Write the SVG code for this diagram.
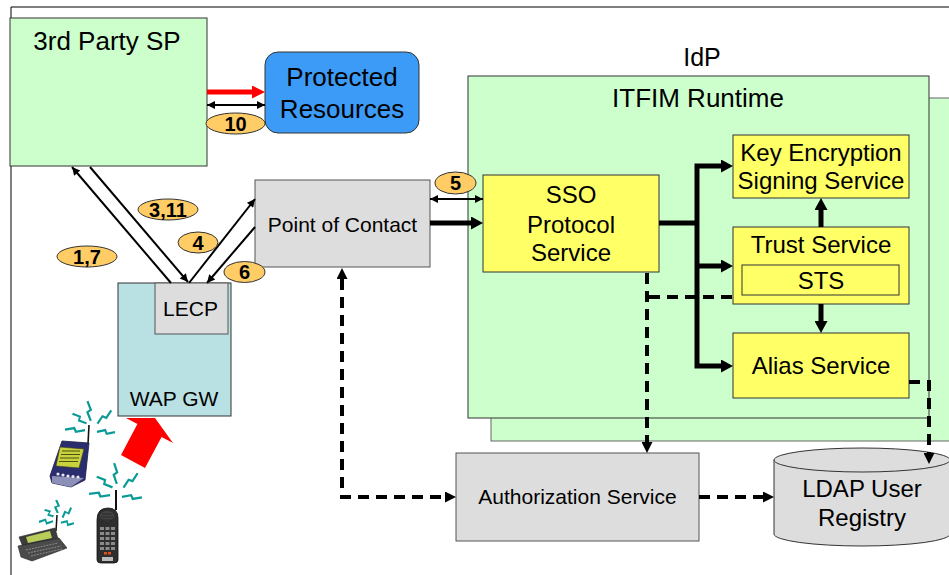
<svg xmlns="http://www.w3.org/2000/svg" xmlns:xlink="http://www.w3.org/1999/xlink" width="949" height="575" viewBox="0 0 949 575">
  <style>
    text { font-family: "Liberation Sans", Arial, sans-serif; fill: #000; text-anchor: middle; }
    .badge ellipse { fill: #FFCC66; stroke: #333; stroke-width: 1; }
    .badge text { font-size: 20px; font-weight: bold; }
    .green { fill: #CCFFCC; stroke: #333; stroke-width: 1; }
    .yellow { fill: #FFFF66; stroke: #333; stroke-width: 1; }
    .grey { fill: #DDDDDD; stroke: #555; stroke-width: 1; }
    .thin { fill: none; stroke: #000; stroke-width: 2; }
    .thick { fill: none; stroke: #000; stroke-width: 5; }
    .dash { fill: none; stroke: #000; stroke-width: 4; stroke-dasharray: 11 7; }
    .ray { fill: none; stroke: #0A9A96; stroke-width: 2.2; }
  </style>
  <defs>
    <marker id="ah" viewBox="0 0 10 10" refX="10" refY="5" markerWidth="10" markerHeight="8" orient="auto-start-reverse" markerUnits="userSpaceOnUse">
      <path d="M0,0 L10,5 L0,10 z" fill="#000"/>
    </marker>
    <marker id="ahThick" viewBox="0 0 12 13" refX="0" refY="6.5" markerWidth="12" markerHeight="13" orient="auto-start-reverse" markerUnits="userSpaceOnUse">
      <path d="M0,0 L12,6.5 L0,13 z" fill="#000"/>
    </marker>
    <marker id="ahRed" viewBox="0 0 13 13" refX="0" refY="6.5" markerWidth="13" markerHeight="13" orient="auto" markerUnits="userSpaceOnUse">
      <path d="M0,0 L13,6.5 L0,13 z" fill="#FF0000"/>
    </marker>
    <marker id="ahDash" viewBox="0 0 11 11" refX="0" refY="5.5" markerWidth="11" markerHeight="11" orient="auto-start-reverse" markerUnits="userSpaceOnUse">
      <path d="M0,0 L11,5.5 L0,11 z" fill="#000"/>
    </marker>
    <!-- radio signal zig-zag, 20 units long along +x -->
    <polyline id="bolt" class="ray" points="0,0.8 9,-1.8 11,1.8 20,-0.8"/>
  </defs>

  <!-- page frame -->
  <path d="M11,575 V7 H949" fill="none" stroke="#000" stroke-width="1"/>

  <!-- IdP container -->
  <g id="idp">
    <text x="702" y="66" font-size="25">IdP</text>
    <rect x="491" y="98" width="470" height="343" fill="#CCFFCC" stroke="#666" stroke-width="1"/>
  </g>
  <g id="itfim-runtime">
    <rect class="green" x="468" y="76" width="461" height="342"/>
    <text x="698" y="107" font-size="26">ITFIM Runtime</text>
  </g>

  <g id="third-party-sp">
    <rect class="green" x="10" y="18" width="197" height="148"/>
    <text x="107" y="50" font-size="26">3rd Party SP</text>
  </g>

  <g id="protected-resources">
    <rect x="265" y="52" width="154" height="81" rx="13" fill="#3D9BF8" stroke="#333" stroke-width="1"/>
    <text x="342" y="86" font-size="26">Protected</text>
    <text x="342" y="118" font-size="26">Resources</text>
  </g>

  <g id="point-of-contact">
    <rect class="grey" x="255" y="180" width="175" height="87"/>
    <text x="342.5" y="232" font-size="21">Point of Contact</text>
  </g>

  <g id="sso-protocol-service">
    <rect class="yellow" x="483" y="175" width="176" height="97"/>
    <text x="571" y="203" font-size="24">SSO</text>
    <text x="571" y="233" font-size="24">Protocol</text>
    <text x="571" y="261" font-size="24">Service</text>
  </g>

  <g id="key-encryption-service">
    <rect class="yellow" x="733" y="135" width="176" height="63"/>
    <text x="821" y="161" font-size="24">Key Encryption</text>
    <text x="821" y="189" font-size="24">Signing Service</text>
  </g>

  <g id="trust-service">
    <rect class="yellow" x="733" y="227" width="176" height="77"/>
    <text x="821" y="253" font-size="24">Trust Service</text>
    <g id="sts">
      <rect class="yellow" x="742" y="265" width="157" height="30"/>
      <text x="821" y="289" font-size="24">STS</text>
    </g>
  </g>

  <g id="alias-service">
    <rect class="yellow" x="733" y="333" width="176" height="65"/>
    <text x="821" y="374" font-size="24">Alias Service</text>
  </g>

  <g id="authorization-service">
    <rect class="grey" x="456" y="453" width="243" height="88"/>
    <text x="577.5" y="504" font-size="21">Authorization Service</text>
  </g>

  <g id="ldap-user-registry">
    <path d="M774,460 V534 A88,12 0 0 0 950,534 V460 Z" fill="#DDDDDD" stroke="#333" stroke-width="1"/>
    <ellipse cx="862" cy="460" rx="88" ry="12" fill="#DDDDDD" stroke="#333" stroke-width="1"/>
    <text x="862" y="497" font-size="24">LDAP User</text>
    <text x="862" y="526" font-size="24">Registry</text>
  </g>

  <g id="wap-gw">
    <rect x="118" y="283" width="113" height="133" fill="#B9E0E3" stroke="#333" stroke-width="1"/>
    <text x="174" y="406" font-size="21">WAP GW</text>
    <g id="lecp">
      <rect class="grey" x="155" y="283" width="73" height="51"/>
      <text x="190.5" y="316" font-size="21">LECP</text>
    </g>
  </g>

  <!-- mobile devices -->
  <g id="devices">
    <!-- red uplink arrow -->
    <polygon points="155,418 173,443 161.6,436.9 145,468 121,455 137.4,424.1 126,418" fill="#FF0000"/>

    <!-- handheld PDA -->
    <g id="pda">
      <line x1="88" y1="444" x2="89" y2="425" stroke="#111" stroke-width="1.6"/>
      <polygon points="62,441 89,443 85,480 71,487 52,483 50,476" fill="#2B2E6E" stroke="#1A1C44" stroke-width="0.8"/>
      <polygon points="52,476 84,478 71,487 52,483" fill="#8C90B8"/>
      <polygon points="60,447 84,449 79,468 56,466" fill="#C8D23C" stroke="#3A3A20" stroke-width="0.6"/>
      <path d="M62,451 H80 M61,454.5 H80 M60,458 H79 M59,461.5 H78" stroke="#4A5010" stroke-width="1"/>
      <circle cx="58" cy="474" r="1.6" fill="#E8E8F0"/>
      <circle cx="63" cy="475" r="1.6" fill="#E8E8F0"/>
      <circle cx="68" cy="476" r="1.6" fill="#E8E8F0"/>
      <circle cx="73" cy="476.5" r="1.6" fill="#E8E8F0"/>
      <circle cx="78" cy="477" r="1.6" fill="#E8E8F0"/>
      <use xlink:href="#bolt" transform="translate(90,421) rotate(-95) scale(1,1)"/>
      <use xlink:href="#bolt" transform="translate(86,424) rotate(-140) scale(0.85,1)"/>
      <use xlink:href="#bolt" transform="translate(97,423) rotate(-39) scale(0.95,1)"/>
      <use xlink:href="#bolt" transform="translate(85,431) rotate(186) scale(1,1)"/>
      <use xlink:href="#bolt" transform="translate(97,431) rotate(6) scale(0.9,1)"/>
    </g>

    <!-- cordless phone -->
    <g id="phone">
      <line x1="116" y1="510" x2="116" y2="490" stroke="#111" stroke-width="2"/>
      <path d="M97,520 Q97,508 108,508 Q118,508 118,518 V560 Q118,563 114,563 H101 Q97,563 97,560 Z" fill="#2E2E2E" stroke="#111" stroke-width="0.8"/>
      <ellipse cx="107" cy="516" rx="7" ry="5" fill="#444"/>
      <path d="M102,514 H112 M101,517 H113 M102,520 H112" stroke="#222" stroke-width="0.8"/>
      <g fill="#8A8A8A">
        <rect x="100" y="527" width="4" height="3"/><rect x="105.5" y="527" width="4" height="3"/><rect x="111" y="527" width="4" height="3"/>
        <rect x="100" y="532" width="4" height="3"/><rect x="105.5" y="532" width="4" height="3"/><rect x="111" y="532" width="4" height="3"/>
        <rect x="100" y="537" width="4" height="3"/><rect x="105.5" y="537" width="4" height="3"/><rect x="111" y="537" width="4" height="3"/>
        <rect x="100" y="542" width="4" height="3"/><rect x="105.5" y="542" width="4" height="3"/><rect x="111" y="542" width="4" height="3"/>
        <rect x="100" y="547" width="4" height="3"/><rect x="105.5" y="547" width="4" height="3"/><rect x="111" y="547" width="4" height="3"/>
      </g>
      <rect x="104" y="552" width="3" height="2.5" fill="#E05020"/>
      <rect x="108" y="552" width="3" height="2.5" fill="#E05020"/>
      <rect x="102" y="557" width="11" height="4" fill="#BBB"/>
      <use xlink:href="#bolt" transform="translate(116,484) rotate(-93) scale(1.05,1)"/>
      <use xlink:href="#bolt" transform="translate(112,488) rotate(-141) scale(0.95,1)"/>
      <use xlink:href="#bolt" transform="translate(123,487) rotate(-41) scale(1,1)"/>
      <use xlink:href="#bolt" transform="translate(110,496) rotate(188) scale(1.05,1)"/>
      <use xlink:href="#bolt" transform="translate(122,496) rotate(6) scale(1,1)"/>
    </g>

    <!-- clamshell communicator -->
    <g id="communicator">
      <line x1="56" y1="531" x2="57" y2="515" stroke="#111" stroke-width="1.5"/>
      <polygon points="19,537 55,528 58,539 23,547" fill="#3C3C3C" stroke="#222" stroke-width="0.6"/>
      <polygon points="26,537 50,531 52,538 28,543" fill="#B8CC5A"/>
      <polygon points="18,546 59,538 67,548 32,561 21,557" fill="#4A4A4A" stroke="#222" stroke-width="0.6"/>
      <path d="M26,550 L58,543 M28,553 L61,546 M31,556 L62,549" stroke="#8A8A8A" stroke-width="1" stroke-dasharray="2 1"/>
      <use xlink:href="#bolt" transform="translate(57,513) rotate(-90) scale(0.65,1)"/>
      <use xlink:href="#bolt" transform="translate(53,517) rotate(-135) scale(0.55,1)"/>
      <use xlink:href="#bolt" transform="translate(62,517) rotate(-42) scale(0.65,1)"/>
      <use xlink:href="#bolt" transform="translate(53,522) rotate(184) scale(0.7,1)"/>
      <use xlink:href="#bolt" transform="translate(61,522) rotate(9) scale(0.65,1)"/>
    </g>
  </g>

  <!-- connectors -->
  <g id="connectors">
    <!-- SP to protected resources -->
    <path d="M207,92 H252" fill="none" stroke="#FF0000" stroke-width="5" marker-end="url(#ahRed)"/>
    <path class="thin" d="M207,105 H265" marker-start="url(#ah)" marker-end="url(#ah)"/>
    <!-- SP / WAP GW / point of contact -->
    <path class="thin" d="M171,283 L72,167" marker-end="url(#ah)"/>
    <path class="thin" d="M90,167 L188,282" marker-end="url(#ah)"/>
    <path class="thin" d="M189,283 L255,199" marker-end="url(#ah)"/>
    <path class="thin" d="M255,227 L207,283" marker-end="url(#ah)"/>
    <!-- point of contact to SSO -->
    <path class="thin" d="M430,199 H483" marker-start="url(#ah)" marker-end="url(#ah)"/>
    <path class="thick" d="M430,223 H471" marker-end="url(#ahThick)"/>
    <!-- SSO to services -->
    <path class="thick" d="M659,223 H697"/>
    <path class="thick" d="M721,166 H697 V366 H721" marker-start="url(#ahThick)" marker-end="url(#ahThick)"/>
    <path class="thick" d="M697,266 H721" marker-end="url(#ahThick)"/>
    <path class="thick" d="M821,227 V210" marker-end="url(#ahThick)"/>
    <path class="thick" d="M821,304 V321" marker-end="url(#ahThick)"/>
    <!-- dashed lookups -->
    <path class="dash" d="M342,279 V497 H445" marker-start="url(#ahDash)" marker-end="url(#ahDash)"/>
    <path class="dash" d="M647,273 V442" marker-end="url(#ahDash)"/>
    <path class="dash" d="M732,297 H647"/>
    <path class="dash" d="M909,382 H929 V453" marker-end="url(#ahDash)"/>
    <path class="dash" d="M699,497 H763" marker-end="url(#ahDash)"/>
  </g>

  <!-- step numbers -->
  <g id="badge-10" class="badge"><ellipse cx="235.5" cy="123.5" rx="29.5" ry="10.5"/><text x="235.5" y="130.5">10</text></g>
  <g id="badge-3-11" class="badge"><ellipse cx="168" cy="209.5" rx="30" ry="10.5"/><text x="168" y="216.5">3,11</text></g>
  <g id="badge-4" class="badge"><ellipse cx="198" cy="242.5" rx="20" ry="10.5"/><text x="198" y="249.5">4</text></g>
  <g id="badge-1-7" class="badge"><ellipse cx="87" cy="256.5" rx="30" ry="10.5"/><text x="87" y="263.5">1,7</text></g>
  <g id="badge-6" class="badge"><ellipse cx="244.5" cy="272" rx="20.5" ry="10.5"/><text x="244.5" y="279">6</text></g>
  <g id="badge-5" class="badge"><ellipse cx="455.5" cy="183" rx="20.5" ry="11"/><text x="455.5" y="190">5</text></g>
</svg>
